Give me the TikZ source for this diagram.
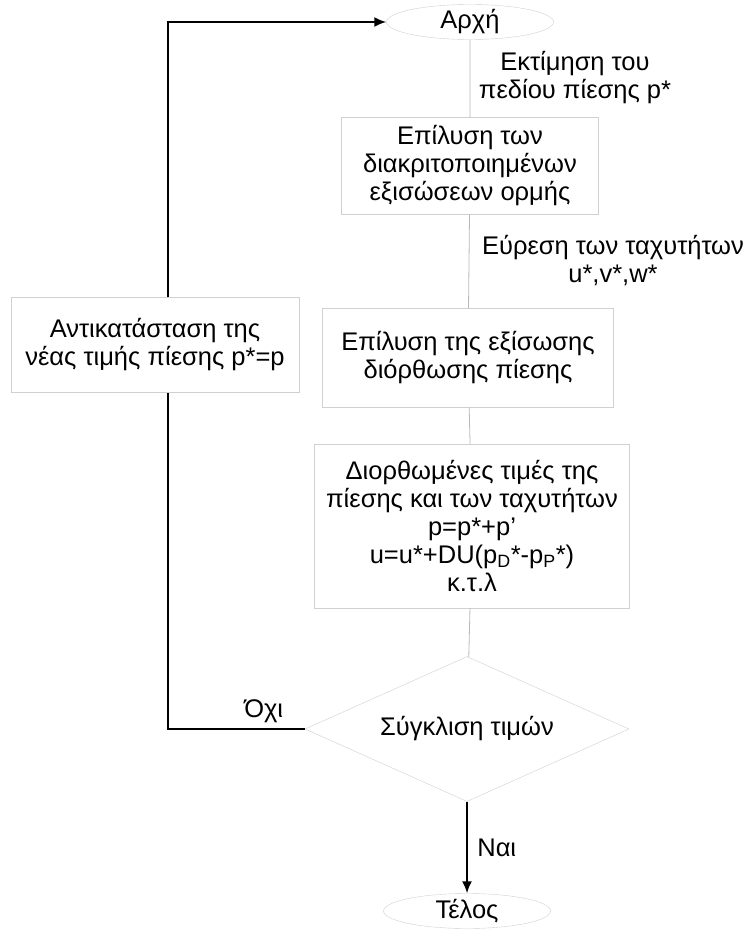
\documentclass[tikz,border=0pt]{standalone}
\usepackage{fontspec}
\setmainfont{Liberation Sans}
\usetikzlibrary{shapes.geometric}
\usetikzlibrary{arrows.meta}
\definecolor{boxgray}{RGB}{208,208,208}
\definecolor{linegray}{RGB}{185,185,185}

\begin{document}
\begin{tikzpicture}[x=1pt,y=-1pt,>/.tip={Latex[length=12pt,width=10pt]},
	font=\fontsize{25.5}{28}\selectfont,
	box/.style={draw=boxgray,fill=white,align=center,inner sep=0pt},
	term/.style={draw=boxgray,ellipse,minimum width=167pt,minimum height=35pt,inner sep=0pt},
	flow/.style={draw=linegray,line width=0.8pt},
	back/.style={draw=black,line width=2pt}]
\useasboundingbox (0,0) rectangle (751,931);
\draw (470,22) node[term] (start) {Αρχή};
\draw (470,166) node[box,minimum width=257pt,minimum height=97pt] (solve) {Επίλυση των\\διακριτοποιημένων\\εξισώσεων ορμής};
\draw (468,358) node[box,minimum width=291pt,minimum height=99pt] (pcorr) {Επίλυση της εξίσωσης\\διόρθωσης πίεσης};
\draw (472,526) node[box,minimum width=315pt,minimum height=164pt] (update) {Διορθωμένες τιμές της\\πίεσης και των ταχυτήτων\\p=p*+p’\\u=u*+DU(p\textsubscript{D}*-p\textsubscript{P}*)\\κ.τ.λ};
\draw (155,345) node[box,minimum width=288pt,minimum height=95pt] (swap) {Αντικατάσταση της\\νέας τιμής πίεσης p*=p};
\draw (467,729) node[box,diamond,aspect=2.23,minimum width=324pt,minimum height=145pt] (conv) {Σύγκλιση τιμών};
\draw (467,911) node[term] (end) {Τέλος};
\draw (575,78) node[align=center] (guess) {Εκτίμηση του\\πεδίου πίεσης p*};
\draw (613,261) node[align=center] (vel) {Εύρεση των ταχυτήτων\\u*,v*,w*};
\coordinate (turn) at (168,729);
\draw[flow] (start) -- (solve) -- (pcorr) -- (update) -- (conv);
\draw[back,->] (conv.south) -- node[right=6pt] (yes) {Ναι} (end.north);
\draw[back] (conv.west) -- node[above=2pt,pos=0.3] (no) {Όχι} (turn) -- (turn |- swap.south);
\draw[back,->] (turn |- swap.north) |- (start.west);
\end{tikzpicture}
\end{document}
